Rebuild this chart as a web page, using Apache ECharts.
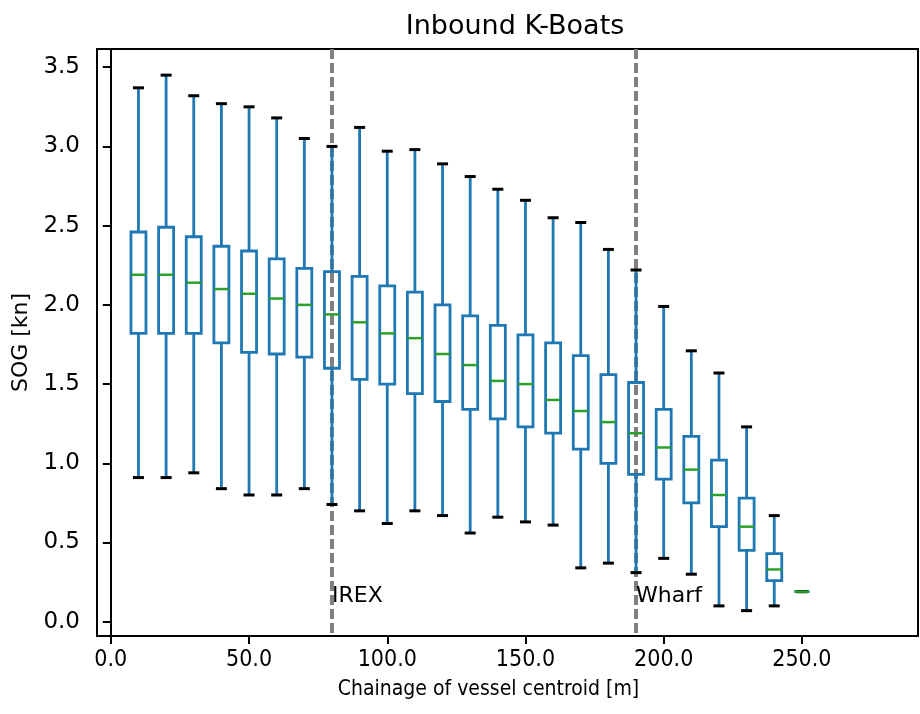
<!DOCTYPE html>
<html>
<head>
<meta charset="utf-8">
<script src="https://cdn.jsdelivr.net/npm/echarts@6/dist/echarts.min.js"></script>
<style>
  html, body { margin: 0; padding: 0; background: #fff; }
  #boxChart { width: 920px; height: 714px; }
</style>
</head>
<body>
<div id="boxChart"></div>
<script>
// chainage positions [m]
var positions = [10, 20, 30, 40, 50, 60, 70, 80, 90, 100, 110, 120, 130, 140, 150, 160, 170, 180, 190, 200, 210, 220, 230, 240, 250];
// SOG statistics per position [kn]
var whiskerLow  = [0.91, 0.91, 0.94, 0.84, 0.80, 0.80, 0.84, 0.74, 0.70, 0.62, 0.70, 0.67, 0.56, 0.66, 0.63, 0.61, 0.34, 0.37, 0.31, 0.40, 0.30, 0.10, 0.07, 0.10, 0.19];
var q1          = [1.82, 1.82, 1.82, 1.76, 1.70, 1.69, 1.67, 1.60, 1.53, 1.50, 1.44, 1.39, 1.34, 1.28, 1.23, 1.19, 1.09, 1.00, 0.93, 0.90, 0.75, 0.60, 0.45, 0.26, 0.19];
var medians     = [2.19, 2.19, 2.14, 2.10, 2.07, 2.04, 2.00, 1.94, 1.89, 1.82, 1.79, 1.69, 1.62, 1.52, 1.50, 1.40, 1.33, 1.26, 1.19, 1.10, 0.96, 0.80, 0.60, 0.33, 0.19];
var q3          = [2.46, 2.49, 2.43, 2.37, 2.34, 2.29, 2.23, 2.21, 2.18, 2.12, 2.08, 2.00, 1.93, 1.87, 1.81, 1.76, 1.68, 1.56, 1.51, 1.34, 1.17, 1.02, 0.78, 0.43, 0.19];
var whiskerHigh = [3.37, 3.45, 3.32, 3.27, 3.25, 3.18, 3.05, 3.00, 3.12, 2.97, 2.98, 2.89, 2.81, 2.73, 2.66, 2.55, 2.52, 2.35, 2.22, 1.99, 1.71, 1.57, 1.23, 0.67, 0.19];
// reference lines
var markerPositions = [80, 190];
var markerNames = ['IREX', 'Wharf'];
// tick labels
var xTicks = [0, 50, 100, 150, 200, 250];
var yTicks = [0, 0.5, 1.0, 1.5, 2.0, 2.5, 3.0, 3.5];

var BLUE = '#1f77b4';
var GREEN = '#2ca02c';
var narrowFont = "'Liberation Sans Narrow', 'DejaVu Sans Condensed', 'Liberation Sans', sans-serif";

var boxData = positions.map(function (p, i) {
    return [p, whiskerLow[i], q1[i], medians[i], q3[i], whiskerHigh[i]];
});

function renderBox(params, api) {
    var x = api.value(0);
    var lo = api.coord([x, api.value(1)]);
    var b1 = api.coord([x, api.value(2)]);
    var md = api.coord([x, api.value(3)]);
    var b3 = api.coord([x, api.value(4)]);
    var hi = api.coord([x, api.value(5)]);
    var cx = lo[0];
    var hw = 7.5;   // half box width
    var cw = 5.5;   // half cap width
    var blueLine = { stroke: BLUE, lineWidth: 2.8, fill: null };
    return {
        type: 'group',
        children: [
            { type: 'line', shape: { x1: cx, y1: lo[1], x2: cx, y2: b1[1] }, style: blueLine },
            { type: 'line', shape: { x1: cx, y1: b3[1], x2: cx, y2: hi[1] }, style: blueLine },
            { type: 'rect', shape: { x: cx - hw, y: b3[1], width: hw * 2, height: b1[1] - b3[1] }, style: blueLine },
            { type: 'line', shape: { x1: cx - cw, y1: lo[1], x2: cx + cw, y2: lo[1] }, style: { stroke: '#000', lineWidth: 3 } },
            { type: 'line', shape: { x1: cx - cw, y1: hi[1], x2: cx + cw, y2: hi[1] }, style: { stroke: '#000', lineWidth: 3 } },
            { type: 'line', shape: { x1: cx - hw, y1: md[1], x2: cx + hw, y2: md[1] }, style: { stroke: GREEN, lineWidth: 2.5 } }
        ]
    };
}

function renderMarker(params, api) {
    var x = api.value(0);
    var top = api.coord([x, 3.615]);
    var bottom = api.coord([x, -0.09]);
    var txt = api.coord([x, 0.09]);
    return {
        type: 'group',
        children: [
            { type: 'line', shape: { x1: top[0], y1: top[1], x2: bottom[0], y2: bottom[1] },
              style: { stroke: '#7f7f7f', lineWidth: 4, lineDash: [10, 4] } },
            { type: 'text', x: txt[0], y: txt[1],
              style: { text: markerNames[params.dataIndex], fill: '#000', font: '22px DejaVu Sans',
                       align: 'left', verticalAlign: 'bottom' } }
        ]
    };
}

var boxChart = echarts.init(document.getElementById('boxChart'));
var option = {
    animation: false,
    title: {
        text: 'Inbound K-Boats',
        left: 510,
        top: 8,
        textAlign: 'center',
        textStyle: { fontFamily: 'DejaVu Sans', fontSize: 27, fontWeight: 'normal', color: '#000' }
    },
    grid: {
        left: 97, top: 49, right: 2, bottom: 78,
        show: true, borderColor: '#000', borderWidth: 2
    },
    xAxis: {
        type: 'value',
        min: -5,
        max: 292,
        name: 'Chainage of vessel centroid [m]',
        nameLocation: 'middle',
        nameGap: 43,
        nameTextStyle: { fontFamily: narrowFont, fontSize: 21, color: '#000', padding: [0, 38, 0, 0] },
        axisLine: { show: true, onZero: false, lineStyle: { color: '#000', width: 2 } },
        axisTick: { show: true, length: 8, customValues: xTicks, lineStyle: { color: '#000', width: 2 } },
        axisLabel: {
            customValues: xTicks, margin: 13, color: '#000',
            fontFamily: narrowFont, fontSize: 23,
            formatter: function (v) { return v.toFixed(1); }
        },
        splitLine: { show: false }
    },
    yAxis: {
        type: 'value',
        min: -0.09,
        max: 3.615,
        name: 'SOG [kn]',
        nameLocation: 'middle',
        nameGap: 64,
        nameTextStyle: { fontFamily: 'DejaVu Sans', fontSize: 22, color: '#000' },
        axisLine: { show: true, lineStyle: { color: '#000', width: 2 } },
        axisTick: { show: true, length: 8, customValues: yTicks, lineStyle: { color: '#000', width: 2 } },
        axisLabel: {
            customValues: yTicks, margin: 17, color: '#000',
            fontFamily: 'DejaVu Sans', fontSize: 23,
            formatter: function (v) { return v.toFixed(1); }
        },
        splitLine: { show: false }
    },
    series: [
        {
            type: 'custom',
            name: 'markers',
            renderItem: renderMarker,
            data: markerPositions.map(function (p) { return [p]; }),
            encode: { x: 0 },
            z: 1,
            silent: true
        },
        {
            type: 'custom',
            name: 'SOG',
            renderItem: renderBox,
            data: boxData,
            encode: { x: 0, y: [1, 2, 3, 4, 5] },
            z: 2,
            silent: true
        }
    ]
};
boxChart.setOption(option);

window.addEventListener('resize', function () {
    boxChart.resize();
});
</script>
</body>
</html>
